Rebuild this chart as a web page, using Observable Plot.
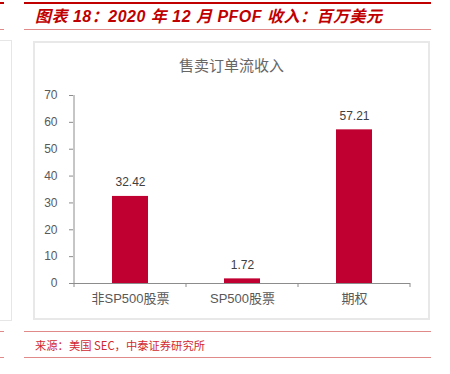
<!DOCTYPE html>
<html>
<head>
<meta charset="utf-8">
<script src="https://cdn.jsdelivr.net/npm/d3@7"></script>
<script src="https://cdn.jsdelivr.net/npm/@observablehq/plot@0.6"></script>
<style>
  html, body { margin: 0; padding: 0; background: #fff; }
  #page { position: relative; width: 450px; height: 374px; overflow: hidden; background: #fff;
          font-family: "Liberation Sans", "Noto Sans CJK SC", sans-serif; }
  .abs { position: absolute; }
  .hline { position: absolute; height: 0; }
  #header { left: 35px; top: 7px; font-size: 16px; font-weight: bold; font-style: italic; color: #C00000;
            white-space: nowrap; line-height: 20px; letter-spacing: 0.5px; }
  #source { left: 35px; top: 337px; font-size: 11.3px; color: #D02A30; white-space: nowrap; line-height: 16px;
            font-family: "Noto Sans CJK SC", sans-serif; }
  #ctitle { left: 33px; width: 397px; top: 55px; text-align: center; font-size: 15px; color: #666;
            font-family: "Noto Sans CJK SC", sans-serif; line-height: 20px; }
  #box { left: 33px; top: 41px; width: 393px; height: 275px; border: 2px solid #E8E8E8; }
  #plot svg { position: absolute; left: 0; top: 0; overflow: visible; }
</style>
</head>
<body>
<div id="page">
  <div class="hline" style="left:0;width:4px;top:2px;border-top:2.5px solid #C00000"></div>
  <div class="hline" style="left:0;width:4px;top:29px;border-top:1px solid #E08A8A"></div>
  <div class="abs" style="left:-2px;top:40px;width:12px;height:279px;border:1.5px solid #E6E6E6"></div>
  <div class="hline" style="left:0;width:4px;top:331px;border-top:1px solid #E08A8A"></div>
  <div class="hline" style="left:0;width:4px;top:357px;border-top:1px solid #E08A8A"></div>

  <div class="hline" style="left:24px;width:407px;top:2px;border-top:2.5px solid #C00000"></div>
  <div id="header" class="abs">图表 18：2020 年 12 月 PFOF 收入：百万美元</div>
  <div class="hline" style="left:24px;width:407px;top:29px;border-top:1px solid #E08A8A"></div>

  <div id="box" class="abs"></div>
  <div id="ctitle" class="abs">售卖订单流收入</div>
  <div id="plot"></div>

  <div class="hline" style="left:24px;width:407px;top:331px;border-top:1px solid #E08A8A"></div>
  <div id="source" class="abs">来源：美国 SEC，中泰证券研究所</div>
  <div class="hline" style="left:24px;width:407px;top:357px;border-top:1px solid #E08A8A"></div>
</div>
<script>
const categories = ["非SP500股票", "SP500股票", "期权"];
const values = [32.42, 1.72, 57.21];
const yTicks = [0, 10, 20, 30, 40, 50, 60, 70];

const data = categories.map((c, i) => ({cat: c, value: values[i]}));
const fmt = d3.format(".2f");
const axisGrey = "#8C8C8C";
const textGrey = "#595959";

const fig = Plot.plot({
  width: 450,
  height: 374,
  marginLeft: 73,
  marginRight: 40,
  marginTop: 95,
  marginBottom: 91,
  style: {background: "transparent", fontFamily: "'Liberation Sans', 'Noto Sans CJK SC', sans-serif", overflow: "visible"},
  x: {domain: categories, paddingInner: 0.68, paddingOuter: 0.34, label: null},
  y: {domain: [0, 70], label: null},
  marks: [
    Plot.barY(data, {x: "cat", y: "value", fill: "#C00030"}),
    Plot.ruleY([0], {stroke: axisGrey, strokeWidth: 1}),
    Plot.axisY({ticks: yTicks, tickSize: 4, tickPadding: 12, fontSize: 12, stroke: axisGrey, fill: textGrey, label: null, tickFormat: d => d}),
    Plot.axisX({tickSize: 0, tickPadding: 10, fontSize: 13, fill: textGrey, label: null}),
    Plot.text(data, {x: "cat", y: "value", text: d => fmt(d.value), dy: -14, fontSize: 12, fill: "#404040"})
  ]
});
document.getElementById("plot").appendChild(fig);

// axis line and category-boundary ticks from the plot's own scales
const xs = fig.scale("x");
const ys = fig.scale("y");
const g = d3.select(fig).append("g").attr("stroke", axisGrey).attr("stroke-width", 1);
const y0 = ys.apply(0);
const half = (xs.step - xs.bandwidth) / 2;
const bounds = categories.map(c => xs.apply(c) - half);
bounds.push(xs.apply(categories[categories.length - 1]) + xs.bandwidth + half);
g.append("line").attr("x1", bounds[0]).attr("x2", bounds[0]).attr("y1", ys.apply(70)).attr("y2", y0);
bounds.forEach(b => {
  g.append("line").attr("x1", b).attr("x2", b).attr("y1", y0).attr("y2", y0 + 4);
});
</script>
</body>
</html>
